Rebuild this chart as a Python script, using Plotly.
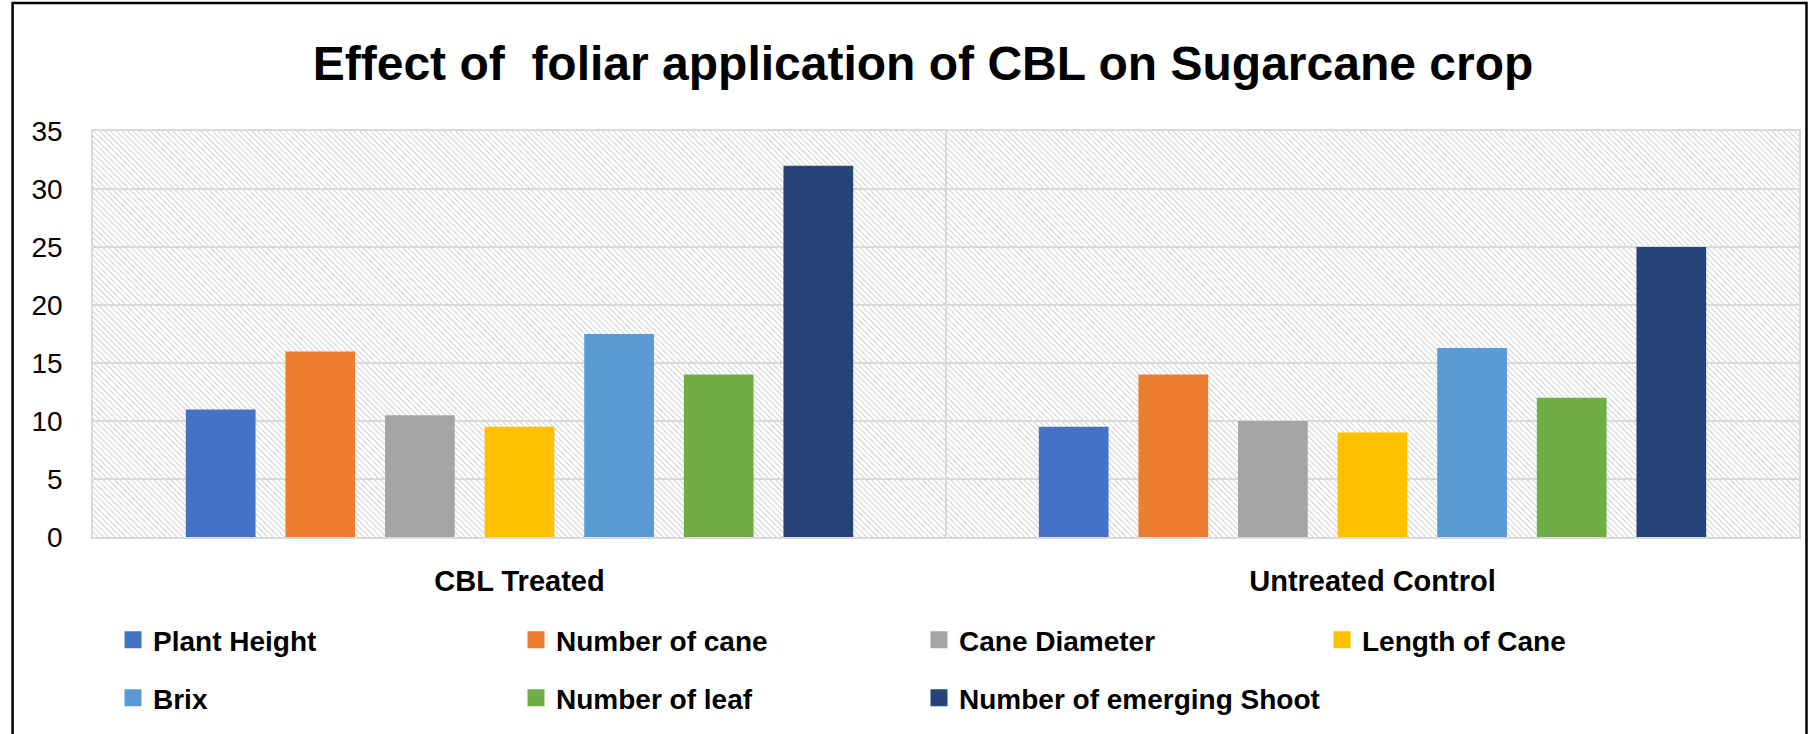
import base64
import plotly.graph_objects as go

# ---------------- data ----------------
groups = ["CBL Treated", "Untreated Control"]
series_names = ["Plant Height", "Number of cane", "Cane Diameter", "Length of Cane",
                "Brix", "Number of leaf", "Number of emerging Shoot"]
plant_height = [11, 9.5]
number_of_cane = [16, 14]
cane_diameter = [10.5, 10]
length_of_cane = [9.5, 9]
brix = [17.5, 16.3]
number_of_leaf = [14, 12]
emerging_shoot = [32, 25]
series_values = [plant_height, number_of_cane, cane_diameter, length_of_cane,
                 brix, number_of_leaf, emerging_shoot]
colors = ["#4472C4", "#ED7D31", "#A5A5A5", "#FFC000", "#5B9BD5", "#70AD47", "#264478"]
y_ticks = [0, 5, 10, 15, 20, 25, 30, 35]
title_text = "Effect of&nbsp; foliar application of CBL on Sugarcane crop"

# ---------------- layout constants ----------------
W, H = 1811, 734
ML, MR, MT, MB = 93, 10, 131, 197
PW, PH = W - ML - MR, H - MT - MB
FONT = "Liberation Sans, Arial, sans-serif"
GRID = "#d9d9d9"


def px_x(p):
    return (p - ML) / PW


def px_y(p):
    return (H - MB - p) / PH


# hatched plot background (style only)
svg = (f'<svg xmlns="http://www.w3.org/2000/svg" width="{PW}" height="{PH}">'
       '<defs><pattern id="p" width="4" height="4" patternUnits="userSpaceOnUse" '
       'patternTransform="rotate(-45)"><rect width="4" height="4" fill="#ffffff"/>'
       '<line x1="0" y1="0" x2="0" y2="4" stroke="#cdcdcd" stroke-width="1.8"/></pattern></defs>'
       '<rect width="100%" height="100%" fill="url(#p)"/></svg>')
svg_uri = "data:image/svg+xml;base64," + base64.b64encode(svg.encode()).decode()

fig = go.Figure()

for name, vals, col in zip(series_names, series_values, colors):
    fig.add_trace(go.Bar(
        x=groups, y=vals, name=name, marker=dict(color=col, line=dict(width=0)),
        showlegend=False, hoverinfo="x+y+name"))

# legend-only entries (two rows, like the reference)
for i, (name, col) in enumerate(zip(series_names, colors)):
    fig.add_trace(go.Bar(
        x=[None], y=[None], name=name, xaxis="x2", yaxis="y2",
        marker=dict(color=col, line=dict(color=col, width=5)),
        legend="legend" if i < 4 else "legend2", showlegend=True))

legend_common = dict(
    orientation="h", xref="container", yref="container",
    xanchor="left", yanchor="middle",
    font=dict(family=FONT, size=28, color="#000000", weight="bold"),
    entrywidthmode="pixels", entrywidth=358, bgcolor="rgba(0,0,0,0)",
    borderwidth=0, traceorder="normal")

fig.update_layout(
    width=W, height=H,
    margin=dict(l=ML, r=MR, t=MT, b=MB),
    paper_bgcolor="#ffffff", plot_bgcolor="rgba(0,0,0,0)",
    barmode="group", bargap=0.1826, bargroupgap=0.30,
    title=dict(text=title_text, x=923 / W, xanchor="center", xref="container",
               y=1 - 63 / H, yanchor="middle", yref="container",
               font=dict(family=FONT, size=48, color="#000000", weight="bold")),
    xaxis=dict(type="category", tickson="boundaries", showgrid=True, gridcolor=GRID,
               gridwidth=1.5, ticks="", showline=True, mirror=True, linecolor=GRID,
               linewidth=1.5, ticklabelstandoff=17,
               tickfont=dict(family=FONT, size=29, color="#000000", weight="bold")),
    yaxis=dict(range=[0, 35], tickvals=y_ticks, showgrid=True, gridcolor=GRID,
               gridwidth=1.5, zeroline=False, ticks="", showline=True, mirror=True,
               linecolor=GRID, linewidth=1.5, ticklabelstandoff=23,
               tickfont=dict(family=FONT, size=28, color="#000000")),
    xaxis2=dict(overlaying="x", visible=False, range=[0, 1]),
    yaxis2=dict(overlaying="y", visible=False, range=[0, 1]),
    legend=dict(x=113 / W, y=1 - 640 / H, **legend_common),
    legend2=dict(x=113 / W, y=1 - 698 / H, **legend_common),
    images=[dict(source=svg_uri, xref="paper", yref="paper", x=0, y=1,
                 sizex=1, sizey=1, xanchor="left", yanchor="top",
                 sizing="stretch", layer="below")],
    shapes=[dict(type="rect", xref="paper", yref="paper",
                 x0=px_x(12.5), x1=px_x(1808.5), y0=px_y(745), y1=px_y(3),
                 line=dict(color="#000000", width=2.5), fillcolor="rgba(0,0,0,0)",
                 layer="above")],
)

fig.write_html("out.html", config={"displayModeBar": False},
               post_script="document.body.style.margin='0';document.body.style.padding='0';")
